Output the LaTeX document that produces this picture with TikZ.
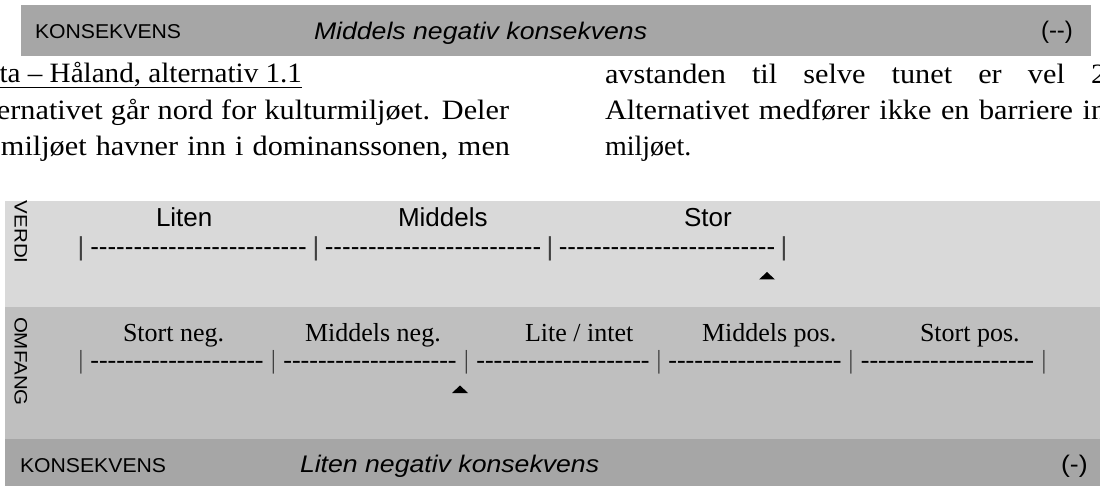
\documentclass[tikz,border=0pt]{standalone}
\usepackage{fontspec}
\setmainfont{Liberation Serif}
\setsansfont{Liberation Sans}
\ExplSyntaxOn
\NewDocumentCommand\dashrun{m}{\prg_replicate:nn{#1}{-\kern0pt}}
\ExplSyntaxOff
\newcommand\wideby[2]{\scalebox{#1}[1]{#2}}
\definecolor{banddark}{HTML}{A6A6A6}
\definecolor{bandlight}{HTML}{D9D9D9}
\definecolor{bandmid}{HTML}{BFBFBF}
\tikzset{
  txt/.style={inner sep=0pt, outer sep=0pt, anchor=base west},
  sanslab/.style={txt, font=\sffamily\fontsize{20}{24}\selectfont},
  sansbig/.style={txt, font=\sffamily\fontsize{26}{30}\selectfont},
  sansit/.style={txt, font=\sffamily\itshape\fontsize{24}{28}\selectfont},
  sansmark/.style={txt, font=\sffamily\fontsize{24}{28}\selectfont},
  serifbig/.style={txt, font=\rmfamily\fontsize{26}{30}\selectfont},
  body/.style={txt, font=\rmfamily\fontsize{28}{36}\selectfont},
  sidelab/.style={txt, rotate=-90, font=\sffamily\fontsize{20.5}{24}\selectfont},
  vtick/.style={inner sep=0pt, outer sep=0pt, anchor=base, font=\sffamily\fontsize{26}{30}\selectfont},
  otick/.style={inner sep=0pt, outer sep=0pt, anchor=base, font=\rmfamily\fontsize{26}{30}\selectfont},
  barcol/.style={text=black!75},
  marker/.style={fill=black},
}
\begin{document}
\begin{tikzpicture}[x=1pt,y=-1pt]
\useasboundingbox (0,0) rectangle (1100,486);
\begin{scope}
\clip (0,0) rectangle (1100,486);
% top band
\fill[banddark] (21,5) rectangle (1091,56);
\node[sanslab] (k1) at (35,39) {\wideby{1.06}{KONSEKVENS}};
\node[sansit] (c1) at (314,40) {\wideby{1.11}{Middels negativ konsekvens}};
\node[sansmark] (s1) at (1041,39) {\wideby{1.0}{(-\kern0pt-)}};
% body text
\node[body, anchor=base east] (h1) at (302,83) {\wideby{1.04}{ta – Håland, alternativ 1.1}};
\draw[line width=1.6pt] ([yshift=-4.5pt]h1.base west) -- ([yshift=-4.5pt]h1.base east);
\node[body] (l2) at (-3,120) {\wideby{1.08}{\makebox[474.1pt][s]{ernativet går nord for kulturmiljøet. Deler}}};
\node[body] (l3) at (1,156) {\wideby{1.08}{\makebox[471.3pt][s]{miljøet havner inn i dominanssonen, men}}};
\node[body] (r1) at (605,84) {\wideby{1.08}{\makebox[464pt][s]{avstanden til selve tunet er vel 2}}};
\node[body] (r2) at (605,120) {\wideby{1.08}{\makebox[464pt][s]{Alternativet medfører ikke en barriere in}}};
\node[body] (r3) at (605,156) {\wideby{1.0}{miljøet.}};
% boxes
\fill[bandlight] (5,201) rectangle (1100,307);
\fill[bandmid] (5,307) rectangle (1100,439);
\fill[banddark] (5,439) rectangle (1100,486);
% side labels
\node[sidelab] (vl) at (14.5,201) {\scalebox{1}[0.88]{VERDI}};
\node[sidelab] (ol) at (14.5,317) {\scalebox{1}[0.88]{OMFANG}};
% VERDI scale
\node[sansbig] (v1) at (156,227) {Liten};
\node[sansbig] (v2) at (398,227) {Middels};
\node[sansbig] (v3) at (684,227) {Stor};
\node[vtick, barcol] (vb1) at (81,256) {|};
\node[vtick, barcol] (vb2) at (316,256) {|};
\node[vtick, barcol] (vb3) at (550,256) {|};
\node[vtick, barcol] (vb4) at (784,256) {|};
\node[vtick] (vd1) at (198.5,256) {\dashrun{25}};
\node[vtick] (vd2) at (433,256) {\dashrun{25}};
\node[vtick] (vd3) at (667,256) {\dashrun{25}};
\fill[marker] (759,279.5) -- (775,279.5) -- (767,272) -- cycle;
% OMFANG scale
\node[serifbig] (o1) at (123,341) {Stort neg.};
\node[serifbig] (o2) at (305,341) {Middels neg.};
\node[serifbig] (o3) at (525,341) {Lite / intet};
\node[serifbig] (o4) at (702,341) {Middels pos.};
\node[serifbig] (o5) at (920,341) {Stort pos.};
\node[otick, barcol] (ob1) at (81,368) {|};
\node[otick, barcol] (ob2) at (273.5,368) {|};
\node[otick, barcol] (ob3) at (466.5,368) {|};
\node[otick, barcol] (ob4) at (659,368) {|};
\node[otick, barcol] (ob5) at (851,368) {|};
\node[otick, barcol] (ob6) at (1044,368) {|};
\node[otick] (od1) at (177,368) {\dashrun{20}};
\node[otick] (od2) at (370,368) {\dashrun{20}};
\node[otick] (od3) at (563,368) {\dashrun{20}};
\node[otick] (od4) at (755,368) {\dashrun{20}};
\node[otick] (od5) at (947.5,368) {\dashrun{20}};
\fill[marker] (452,393) -- (468,393) -- (460,385.5) -- cycle;
% bottom band
\node[sanslab] (k2) at (20,472) {\wideby{1.06}{KONSEKVENS}};
\node[sansit] (c2) at (300,472) {\wideby{1.11}{Liten negativ konsekvens}};
\node[sansmark] (s2) at (1061,472) {\wideby{1.11}{(-)}};
\end{scope}
\end{tikzpicture}
\end{document}
